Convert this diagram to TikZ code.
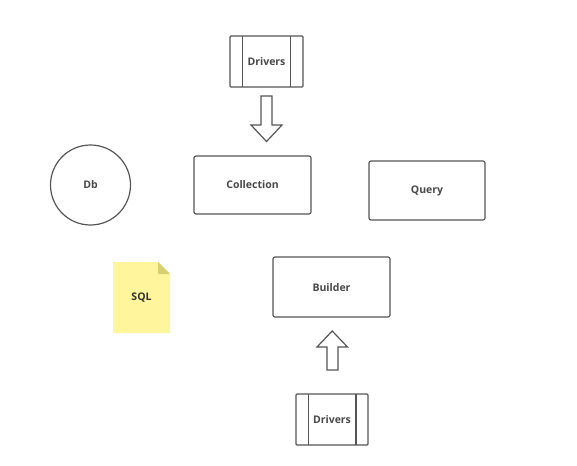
\documentclass[tikz,border=0pt]{standalone}
\usepackage{fontspec}
\setmainfont{Open Sans}
\definecolor{ln}{HTML}{555555}
\definecolor{tx}{HTML}{484848}
\definecolor{note}{HTML}{FFF59D}
\definecolor{fold}{HTML}{D8CF70}
\begin{document}
\begin{tikzpicture}[x=1pt,y=-1pt,
  lbl/.style={font=\bfseries\fontsize{10.5}{12}\selectfont, text=tx},
  box/.style={draw=ln, line width=1.2pt, rounded corners=2pt},
  arr/.style={draw=ln, line width=1.2pt, fill=white, line join=miter}]
\useasboundingbox (0,0) rectangle (577,465);
% top drivers
\draw[box, rounded corners=1pt] (230,36) rectangle (303,87);
\draw[ln, line width=1.2pt] (242.5,36) -- (242.5,87) (290.5,36) -- (290.5,87);
\node[lbl] (drv1) at (266.5,62) {Drivers};
% down arrow
\draw[arr] (261,96) -- (272,96) -- (272,125) -- (282,125) -- (266.5,141.5) -- (251,125) -- (261,125) -- cycle;
% Db
\draw[ln, line width=1.2pt] (90.5,185) circle (40);
\node[lbl] (db) at (90.5,185) {Db};
% Collection
\draw[box] (194,156) rectangle (311,214);
\node[lbl] (coll) at (252.5,185) {Collection};
% Query
\draw[box] (369,161) rectangle (485,220);
\node[lbl] (query) at (427,191) {Query};
% SQL note
\fill[note] (113,262) -- (158,262) -- (170,274) -- (170,333) -- (113,333) -- cycle;
\fill[fold] (158,262) -- (170,274) -- (158,274) -- cycle;
\node[lbl, text=black!80] (sql) at (141.5,298) {SQL};
% Builder
\draw[box] (273,257) rectangle (390,317);
\node[lbl] (builder) at (331.5,288) {Builder};
% up arrow
\draw[arr] (327,370) -- (338,370) -- (338,347) -- (347.5,347) -- (332.2,331) -- (317,347) -- (327,347) -- cycle;
% bottom drivers
\draw[box, rounded corners=1pt] (296,394) rectangle (368,445);
\draw[ln, line width=1.2pt] (308.5,394) -- (308.5,445) (356,394) -- (356,445);
\node[lbl] (drv2) at (332,420) {Drivers};
\end{tikzpicture}
\end{document}
